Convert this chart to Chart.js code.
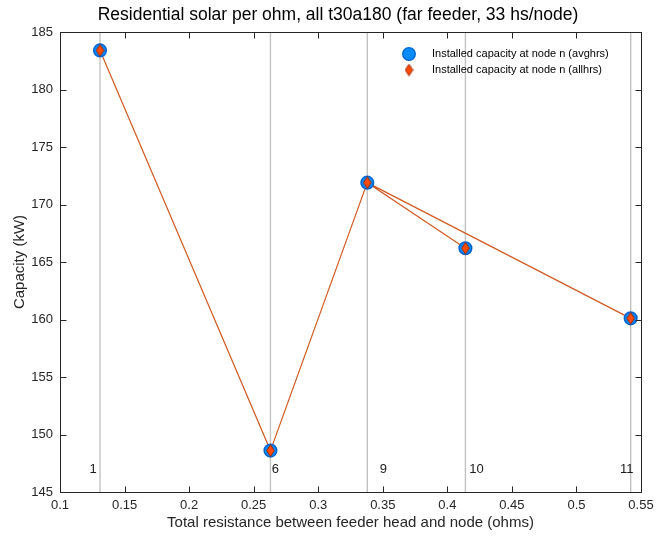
<!DOCTYPE html>
<html>
<head>
<meta charset="utf-8">
<script src="https://cdn.jsdelivr.net/npm/chart.js@4.4.1/dist/chart.umd.min.js"></script>
<style>
  html, body { margin: 0; padding: 0; background: #fff; }
  #wrap { width: 670px; height: 538px; }
</style>
</head>
<body>
<div id="wrap"><canvas id="c" width="670" height="538"></canvas></div>
<script>
// Node ids and the feeder resistance from the head to each node (ohms)
const nodes = ['1', '6', '9', '10', '11'];
const resistance = [0.131, 0.263, 0.338, 0.414, 0.542];
// Installed capacity (kW) under the two hour sets
const capAvghrs = [183.4, 148.6, 171.9, 166.2, 160.1];
const capAllhrs = [183.4, 148.6, 171.9, 166.2, 160.1];
// Sequence of node indices followed by the connecting line
const lineOrder = [0, 1, 2, 3, 2, 4];
// Axis ticks
const xTicks = [0.1, 0.15, 0.2, 0.25, 0.3, 0.35, 0.4, 0.45, 0.5, 0.55];
const yTicks = [145, 150, 155, 160, 165, 170, 175, 180, 185];
const nodeLabelY = 147;
const chartTitle = 'Residential solar per ohm, all t30a180 (far feeder, 33 hs/node)';

const FONT = "'Liberation Sans', Arial, Helvetica, sans-serif";
const TXT = '#262626';

// Diamond marker image (taller than wide)
function diamond(w, h, fill, stroke) {
  const cv = document.createElement('canvas');
  cv.width = w; cv.height = h;
  const g = cv.getContext('2d');
  g.beginPath();
  g.moveTo(w / 2, 0.7); g.lineTo(w - 0.7, h / 2);
  g.lineTo(w / 2, h - 0.7); g.lineTo(0.7, h / 2); g.closePath();
  g.fillStyle = fill; g.fill();
  g.lineWidth = 1; g.strokeStyle = stroke; g.stroke();
  return cv;
}
const diamondImg = diamond(9, 13, '#ff4a0a', '#a02800');
const circleFill = '#0a8cff', circleEdge = '#0064d2';

const pts = (ys) => resistance.map((x, i) => ({ x: x, y: ys[i] }));

const nodeLines = {
  id: 'nodeLines',
  beforeDatasetsDraw(chart) {
    const { ctx, chartArea: a, scales: { x } } = chart;
    ctx.save();
    ctx.strokeStyle = '#c2c2c2';
    ctx.lineWidth = 1.4;
    resistance.forEach(r => {
      const px = x.getPixelForValue(r);
      ctx.beginPath(); ctx.moveTo(px, a.top); ctx.lineTo(px, a.bottom); ctx.stroke();
    });
    ctx.restore();
  }
};

const nodeText = {
  id: 'nodeText',
  afterDatasetsDraw(chart, args, opts) {
    const { ctx, scales: { x, y } } = chart;
    ctx.save();
    ctx.font = '13px ' + FONT;
    ctx.fillStyle = '#1a1a1a';
    ctx.textAlign = 'center';
    ctx.textBaseline = 'middle';
    nodes.forEach((n, i) => {
      ctx.fillText(n, x.getPixelForValue(resistance[i]) + opts.dx[i], y.getPixelForValue(nodeLabelY));
    });
    ctx.restore();
  }
};

const frame = {
  id: 'frame',
  afterDraw(chart) {
    const { ctx, chartArea: a, scales: { x, y } } = chart;
    const L = Math.round(a.left) + 0.5, R = Math.round(a.right) + 0.5;
    const T = Math.round(a.top) + 0.5, B = Math.round(a.bottom) + 0.5;
    ctx.save();
    ctx.strokeStyle = TXT;
    ctx.lineWidth = 1;
    ctx.strokeRect(L, T, R - L, B - T);
    const len = 6;
    ctx.beginPath();
    xTicks.forEach(v => {
      const p = Math.round(x.getPixelForValue(v)) + 0.5;
      ctx.moveTo(p, B); ctx.lineTo(p, B - len);
      ctx.moveTo(p, T); ctx.lineTo(p, T + len);
    });
    yTicks.forEach(v => {
      const p = Math.round(y.getPixelForValue(v)) + 0.5;
      ctx.moveTo(L, p); ctx.lineTo(L + len, p);
      ctx.moveTo(R, p); ctx.lineTo(R - len, p);
    });
    ctx.stroke();
    // title above the axes box
    ctx.font = '17.5px ' + FONT;
    ctx.fillStyle = '#000';
    ctx.textAlign = 'center';
    ctx.textBaseline = 'middle';
    ctx.fillText(chartTitle, 338, 15.5);
    ctx.restore();
  }
};

const legendBox = {
  id: 'legendBox',
  afterDraw(chart) {
    const { ctx } = chart;
    const sx = 409, tx = 432, y1 = 54, y2 = 70;
    ctx.save();
    ctx.beginPath(); ctx.arc(sx, y1, 6.3, 0, Math.PI * 2);
    ctx.fillStyle = circleFill; ctx.fill();
    ctx.lineWidth = 1.3; ctx.strokeStyle = circleEdge; ctx.stroke();
    ctx.drawImage(diamondImg, sx - 4.5, y2 - 6.5);
    ctx.font = '11px ' + FONT;
    ctx.fillStyle = '#000';
    ctx.textAlign = 'left';
    ctx.textBaseline = 'middle';
    ctx.fillText(chart.data.datasets[1].label, tx, y1);
    ctx.fillText(chart.data.datasets[2].label, tx, y2);
    ctx.restore();
  }
};

new Chart(document.getElementById('c'), {
  type: 'scatter',
  data: {
    datasets: [
      {
        label: 'connection',
        type: 'line',
        data: lineOrder.map(i => ({ x: resistance[i], y: capAvghrs[i] })),
        borderColor: '#d35a22',
        borderWidth: 1.2,
        pointRadius: 0,
        fill: false,
        tension: 0,
        order: 3
      },
      {
        label: 'Installed capacity at node n (avghrs)',
        data: pts(capAvghrs),
        pointStyle: 'circle',
        pointRadius: 6.3,
        backgroundColor: circleFill,
        borderColor: circleEdge,
        borderWidth: 1.5,
        order: 2
      },
      {
        label: 'Installed capacity at node n (allhrs)',
        data: pts(capAllhrs),
        pointStyle: diamondImg,
        pointRadius: 6,
        order: 1
      }
    ]
  },
  options: {
    responsive: false,
    animation: false,
    layout: { padding: { left: 0, right: 29, top: 32, bottom: 0 } },
    plugins: {
      legend: { display: false },
      tooltip: { enabled: false },
      title: { display: false },
      nodeText: { dx: [-7, 5, 16, 11, -4] }
    },
    scales: {
      x: {
        type: 'linear',
        min: 0.1, max: 0.55,
        afterBuildTicks: s => { s.ticks = xTicks.map(v => ({ value: v })); },
        afterFit: s => { s.height = 46; },
        grid: { display: false, drawTicks: false },
        border: { display: false },
        ticks: {
          color: TXT, padding: 6, maxRotation: 0, autoSkip: false,
          font: { family: FONT, size: 13 },
          callback: v => String(Math.round(v * 100) / 100)
        },
        title: {
          display: true,
          text: 'Total resistance between feeder head and node (ohms)',
          color: TXT,
          font: { family: FONT, size: 15, lineHeight: 1.2 },
          padding: { top: 0, bottom: 6 }
        }
      },
      y: {
        type: 'linear',
        min: 145, max: 185,
        afterBuildTicks: s => { s.ticks = yTicks.map(v => ({ value: v })); },
        afterFit: s => { s.width = 60; },
        grid: { display: false, drawTicks: false },
        border: { display: false },
        ticks: {
          color: TXT, padding: 7, autoSkip: false,
          font: { family: FONT, size: 13 }
        },
        title: {
          display: true,
          text: 'Capacity (kW)',
          color: TXT,
          font: { family: FONT, size: 15, lineHeight: 1.2 },
          padding: { top: 11, bottom: 0 }
        }
      }
    }
  },
  plugins: [nodeLines, nodeText, frame, legendBox]
});
</script>
</body>
</html>
